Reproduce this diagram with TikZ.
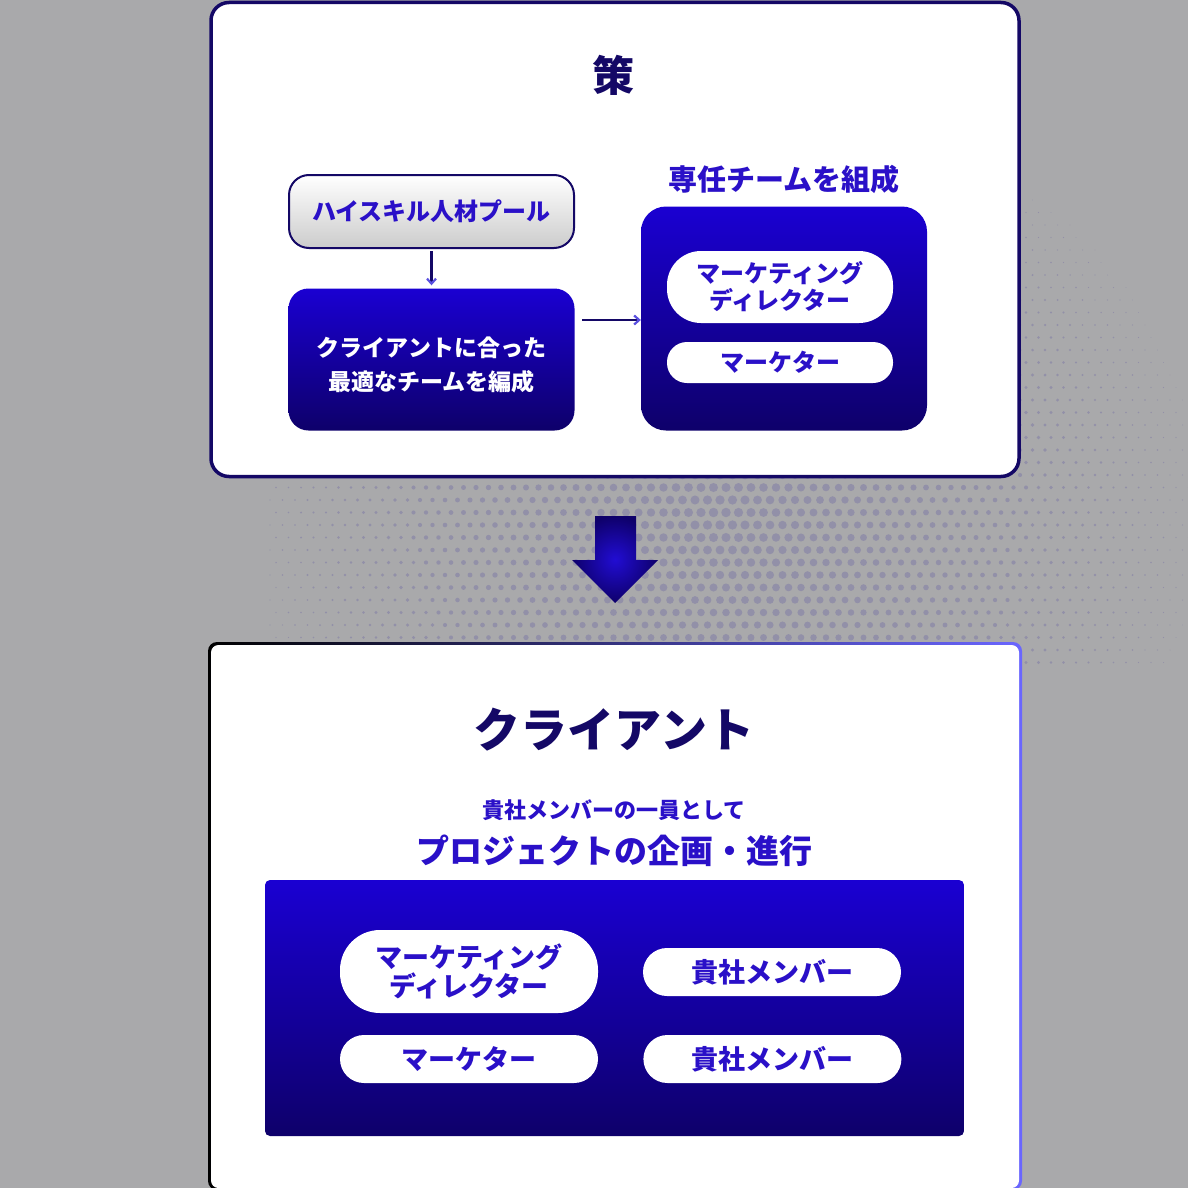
\documentclass[tikz,border=0pt]{standalone}
\usepackage{fontspec}
\setmainfont{Noto Sans CJK JP}
\usetikzlibrary{arrows.meta,positioning}
\definecolor{bggray}{HTML}{A9A9AB}
\definecolor{dotgray}{HTML}{9290A8}
\definecolor{navy}{HTML}{140866}
\definecolor{ink}{HTML}{2A10C8}
\definecolor{topblue}{HTML}{1A00D2}
\definecolor{botblue}{HTML}{0E006A}
\definecolor{edgeblue}{HTML}{6A66FF}
\definecolor{tipblue}{HTML}{5A50E0}
\tikzset{>=latex}
\tikzset{
  txt/.style={font=\bfseries\fontsize{#1pt}{#1pt}\selectfont, inner sep=0pt},
  poolbox/.style={draw=navy, line width=2pt, rounded corners=20pt, top color=white, bottom color=black!20,
    text=ink, txt=24, minimum width=285pt, minimum height=73pt},
  bluebox/.style={rounded corners=#1, top color=topblue, bottom color=botblue, text=white},
  pill/.style={fill=white, text=ink, align=center, minimum width=#1},
  link/.style={draw=navy, line width=2.2pt, -{Straight Barb[length=5pt,width=9pt,color=tipblue]}}
}
\begin{document}
\begin{tikzpicture}[x=1pt,y=-1pt]
\useasboundingbox (0,0) rectangle (1188,1188);
\fill[bggray] (0,0) rectangle (1188,1188);
% halftone dots
\foreach \i in {0,...,76} {
  \foreach \j in {0,...,53} {
    \pgfmathsetmacro\px{270+12.5*\i+6*mod(\j,2)}
    \pgfmathsetmacro\py{12.5*\j}
    \pgfmathsetmacro\r{4.8-veclen((\px-720)*0.95,(\py-515)*1.1)/105}
    \pgfmathparse{\r>0.4 ? 1 : 0}
    \ifnum\pgfmathresult=1 \fill[dotgray] (\px,\py) circle[radius=\r]; \fi
  }
}

% top panel
\node[draw=navy, line width=3.5pt, fill=white, rounded corners=18pt,
  minimum width=808pt, minimum height=474pt] (plan) at (615,239.5) {};
\node[txt=42, text=navy] (ce) at (613,75) {策};
\node[poolbox] (pool) at (431.5,211.5) {ハイスキル人材プール};
\node[bluebox=20pt, minimum width=286pt, minimum height=142pt, txt=23, align=center]
  (fit) at (431.5,359.5) {\rule{0pt}{30pt}クライアントに合った\\[11pt]最適なチームを編成};
\node[bluebox=25pt, minimum width=286pt, minimum height=224pt] (team) at (784,318.5) {};
\node[txt=29, text=ink, above=12pt of team] (teamlbl) {専任チームを組成};
\node[pill=226pt, minimum height=72pt, rounded corners=34pt, txt=24] (md) at (780,287)
  {マーケティング\\[3pt]ディレクター};
\node[pill=226pt, minimum height=41pt, rounded corners=20pt, txt=24] (mk) at (780,362.5) {マーケター};
\coordinate (h1) at (582,320);
\draw[link] ([yshift=-2pt]pool.south) -- ([yshift=3pt]fit.north);
\draw[link] (h1) -- (team.west |- h1);

% down arrow
\shade[inner color=ink!80!blue, outer color=botblue]
  (595,516) -- (636,516) -- (636,560) -- (658,560) -- (615,603) -- (572,560) -- (595,560) -- cycle;

% client panel
\shade[left color=black, right color=edgeblue, rounded corners=9pt] (208,642) rectangle (1022,1190);
\node[fill=white, rounded corners=7.5pt, minimum width=808pt, minimum height=543pt] (client) at (615,916.5) {};
\node[txt=47, text=navy] (cl) at (614,730) {クライアント};
\node[txt=22, text=ink] (sub) at (614,810) {貴社メンバーの一員として};
\node[txt=33, text=ink] (proj) at (614,851) {プロジェクトの企画・進行};
\node[bluebox=5pt, minimum width=699pt, minimum height=256pt] (members) at (614.5,1008) {};
\node[pill=258pt, minimum height=83pt, rounded corners=40pt, txt=27] (md2) at (469,971.5)
  {マーケティング\\[2pt]ディレクター};
\node[pill=258pt, minimum height=48pt, rounded corners=24pt, txt=27] (mem1) at (772,972) {貴社メンバー};
\node[pill=258pt, minimum height=48pt, rounded corners=24pt, txt=27] (mk2) at (469,1059) {マーケター};
\node[pill=258pt, minimum height=48pt, rounded corners=24pt, txt=27, right=45pt of mk2] (mem2) {貴社メンバー};
\end{tikzpicture}
\end{document}
